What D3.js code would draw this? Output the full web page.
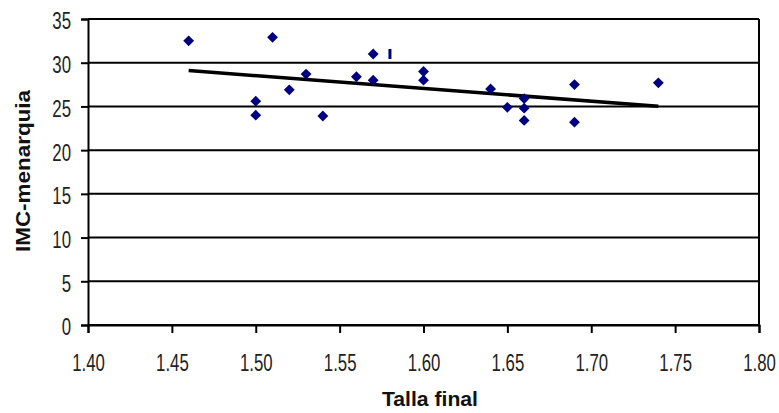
<!DOCTYPE html>
<html>
<head>
<meta charset="utf-8">
<script src="https://cdn.jsdelivr.net/npm/d3@7"></script>
<style>
  html, body { margin: 0; padding: 0; background: #fff; }
  svg { display: block; }
  .tick text { font-family: "Liberation Sans", Arial, sans-serif; font-size: 23px; fill: #222; }
  .title { font-family: "Liberation Sans", Arial, sans-serif; font-size: 19.5px; font-weight: bold; fill: #111; }
</style>
</head>
<body>
<svg id="chart" width="779" height="413"></svg>
<script>
// Final height (m) and BMI at menarche for each girl
const tallaFinal = [1.46, 1.50, 1.50, 1.51, 1.52, 1.53, 1.54, 1.56, 1.57, 1.57,
                    1.60, 1.60, 1.64, 1.65, 1.66, 1.66, 1.66, 1.69, 1.69, 1.74];
const imcMenarquia = [32.5, 25.6, 24.0, 32.9, 26.9, 28.7, 23.9, 28.4, 31.0, 28.0,
                      29.0, 28.0, 27.0, 24.9, 25.9, 24.8, 23.4, 27.5, 23.2, 27.7];

// Stray dash marker drawn beside the scatter
const dashX = [1.58];
const dashY = [31.0];

const xTicks = [1.40, 1.45, 1.50, 1.55, 1.60, 1.65, 1.70, 1.75, 1.80];
const yTicks = [0, 5, 10, 15, 20, 25, 30, 35];

const xLabel = "Talla final";
const yLabel = "IMC-menarquia";

const svg = d3.select("#chart");
const margin = { left: 88, right: 20, top: 19, bottom: 88 };
const W = 779, H = 413;
const squeeze = 0.73; // horizontal condensing of tick numerals

const x = d3.scaleLinear().domain([1.40, 1.80]).range([margin.left, W - margin.right]);
const y = d3.scaleLinear().domain([0, 35]).range([H - margin.bottom, margin.top]);

// Horizontal gridlines
svg.append("g")
  .selectAll("line")
  .data(yTicks)
  .join("line")
  .attr("x1", x(1.40)).attr("x2", x(1.80))
  .attr("y1", d => y(d)).attr("y2", d => y(d))
  .attr("stroke", "#000").attr("stroke-width", 2);

// Right border of the plot area
svg.append("line")
  .attr("x1", x(1.80)).attr("x2", x(1.80))
  .attr("y1", y(0)).attr("y2", y(35))
  .attr("stroke", "#000").attr("stroke-width", 2);

// Axes
const xAxis = svg.append("g")
  .attr("transform", `translate(0,${y(0)})`)
  .call(d3.axisBottom(x).tickValues(xTicks).tickFormat(d3.format(".2f")).tickSize(8).tickPadding(22));
const yAxis = svg.append("g")
  .attr("transform", `translate(${x(1.40)},0)`)
  .call(d3.axisLeft(y).tickValues(yTicks).tickFormat(d3.format("d")).tickSize(7).tickPadding(10));
yAxis.selectAll(".tick text").attr("dy", "0.43em");
[xAxis, yAxis].forEach(g => {
  g.select(".domain").attr("stroke", "#000").attr("stroke-width", 2);
  g.selectAll(".tick line").attr("stroke", "#000").attr("stroke-width", 2);
  // condensed tick numerals: scale horizontally about the tick position
  g.selectAll(".tick text").each(function () {
    const t = d3.select(this);
    const x0 = +t.attr("x") || 0;
    t.attr("x", x0 / squeeze).attr("transform", `scale(${squeeze},1)`);
  });
});

// Least-squares trend line over the observed range
const pts = tallaFinal.map((v, i) => [v, imcMenarquia[i]]);
const mx = d3.mean(pts, d => d[0]), my = d3.mean(pts, d => d[1]);
const sxy = d3.sum(pts, d => (d[0] - mx) * (d[1] - my));
const sxx = d3.sum(pts, d => (d[0] - mx) ** 2);
const slope = sxy / sxx, intercept = my - slope * mx;
const [x0, x1] = d3.extent(tallaFinal);
svg.append("path")
  .datum([[x0, intercept + slope * x0], [x1, intercept + slope * x1]])
  .attr("d", d3.line().x(d => x(d[0])).y(d => y(d[1])))
  .attr("stroke", "#000").attr("stroke-width", 3.5).attr("fill", "none");

// Diamond markers
const diamond = d3.symbol().type(d3.symbolDiamond2).size(75);
svg.append("g")
  .selectAll("path")
  .data(pts)
  .join("path")
  .attr("d", diamond)
  .attr("transform", d => `translate(${x(d[0])},${y(d[1])})`)
  .attr("fill", "#000080");

// Dash marker
svg.append("g")
  .selectAll("rect")
  .data(dashX.map((v, i) => [v, dashY[i]]))
  .join("rect")
  .attr("x", d => x(d[0]) - 1.5).attr("y", d => y(d[1]) - 5)
  .attr("width", 3).attr("height", 10)
  .attr("fill", "#000080");

// Axis titles
svg.append("text").attr("class", "title")
  .attr("x", 430).attr("y", 406)
  .attr("text-anchor", "middle")
  .attr("textLength", 96).attr("lengthAdjust", "spacingAndGlyphs")
  .text(xLabel);
svg.append("text").attr("class", "title")
  .attr("transform", `translate(30,${(y(0) + y(35)) / 2 - 1}) rotate(-90)`)
  .attr("text-anchor", "middle")
  .attr("textLength", 162).attr("lengthAdjust", "spacingAndGlyphs")
  .text(yLabel);
</script>
</body>
</html>
